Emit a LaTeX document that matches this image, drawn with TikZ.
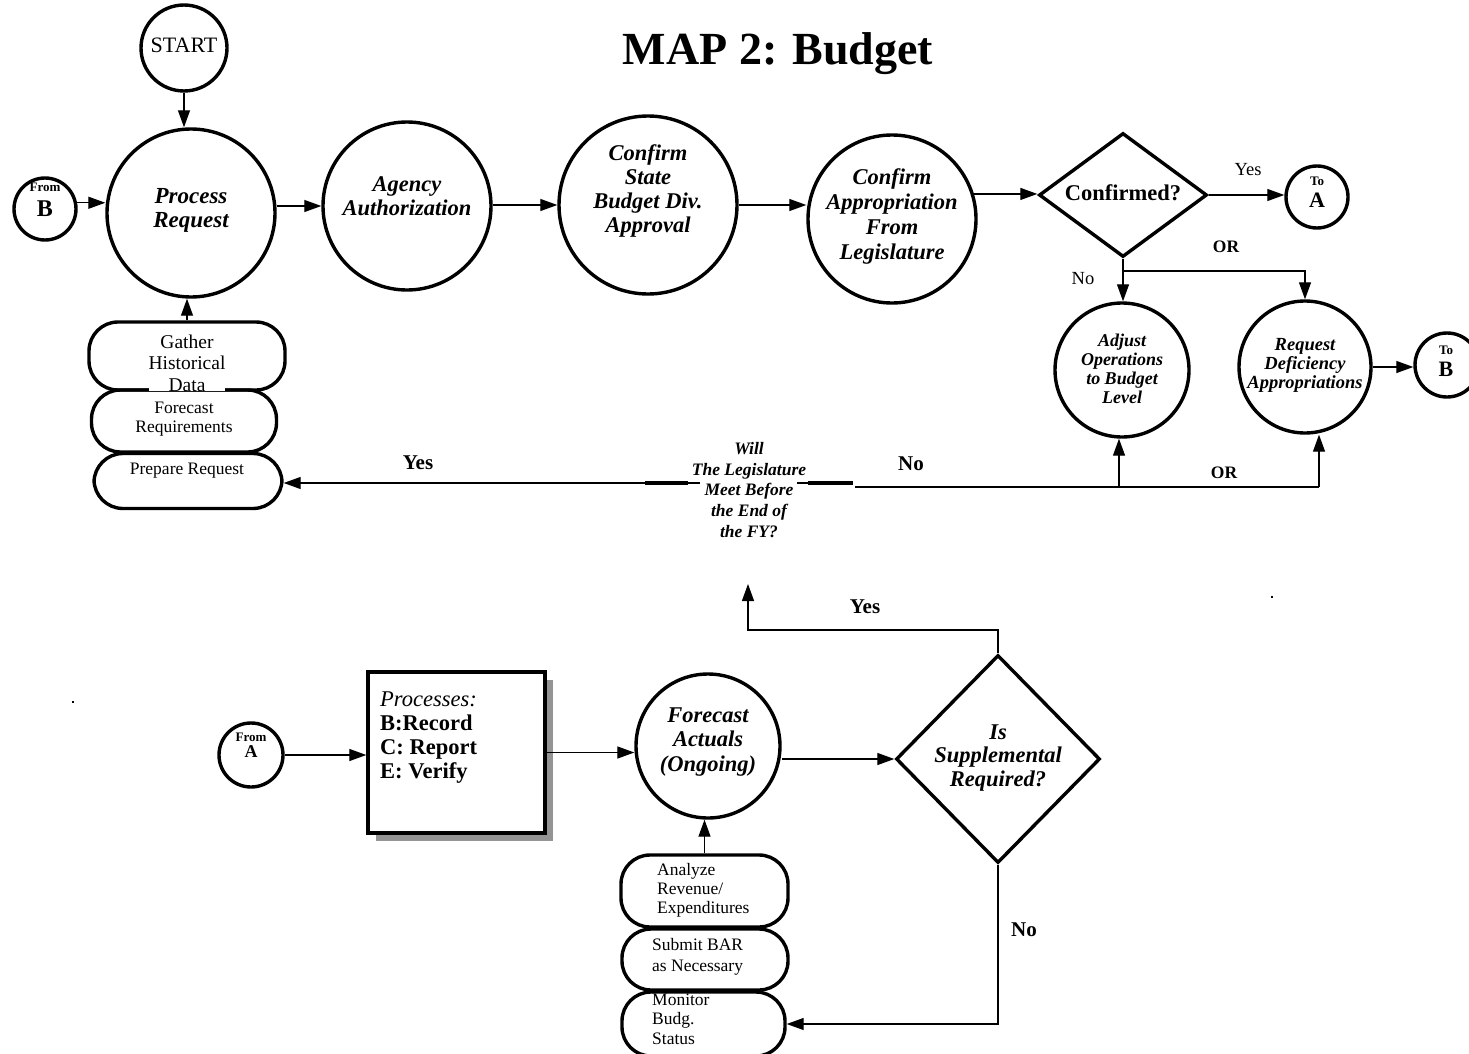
\documentclass[tikz,border=0pt]{standalone}
\usepackage{fontspec}
\setmainfont{Liberation Serif}
\usetikzlibrary{shapes.geometric,arrows.meta,shadows}
\newcommand\fz[2]{\fontsize{#1}{#2}\selectfont}
\begin{document}
\begin{tikzpicture}[x=1pt,y=-1pt,
  arr/.style={-{Triangle[length=17pt,width=12pt]},line width=1.3pt},
  ln/.style={line width=1.3pt},
  cir/.style={circle,draw,line width=3.4pt,inner sep=0pt,minimum size=#1},
  dia/.style={diamond,draw,line width=3.4pt,inner sep=0pt},
  pill/.style={rectangle,draw,line width=3.4pt,rounded corners=29pt,inner sep=0pt},
  txt/.style={inner sep=0pt,align=center},
]
\useasboundingbox (0,0) rectangle (1469,1054);

% title
\node[txt,font=\bfseries\fz{46}{50}] (title) at (778,54) {MAP 2: Budget};

% ---------- top part ----------
\node[cir=86pt] (start) at (184,48) {};
\node[txt,font=\fz{22}{24}] (startt) at (184,45) {START};

\node[cir=168pt] (pr) at (191,213) {};
\node[txt,font=\bfseries\itshape\fz{23}{24}] (prt) at (191,210) {Process\\Request};

\node[cir=62pt] (fb) at (45,209) {};
\node[txt,font=\bfseries\fz{13}{25}] (fbt) at (45,200) {From\\\fz{24}{25}B};

\node[pill,minimum width=196pt,minimum height=68pt] (gh) at (187,356) {};
\node[pill,minimum width=185pt,minimum height=62pt] (fr) at (184,421) {};
\node[pill,minimum width=188pt,minimum height=55pt] (prq) at (188,481) {};
\node[txt,fill=white,font=\fz{19.5}{21.5}] (ght) at (187,363) {Gather\\Historical\\Data};
\node[txt,font=\fz{17.5}{19.5}] (frt) at (184,419) {Forecast\\Requirements};
\node[txt,font=\fz{17.5}{19.5}] (prqt) at (187,471) {Prepare Request};

\node[cir=168pt] (ag) at (407,206) {};
\node[txt,font=\bfseries\itshape\fz{22.5}{24.5}] (agt) at (407,196) {Agency\\Authorization};

\node[cir=178pt] (cs) at (648,205) {};
\node[txt,font=\bfseries\itshape\fz{22.5}{24}] (cst) at (648,191) {Confirm\\State\\Budget Div.\\Approval};

\node[cir=168pt] (ca) at (892,219) {};
\node[txt,font=\bfseries\itshape\fz{22.5}{25}] (cat) at (892,216) {Confirm\\Appropriation\\From\\Legislature};

\node[dia,minimum width=168pt,minimum height=124pt] (cf) at (1123,195) {};
\node[txt,font=\bfseries\fz{22.5}{24}] (cft) at (1123,193) {Confirmed?};

\node[cir=62pt] (ta) at (1317,197) {};
\node[txt,font=\bfseries\fz{13}{22}] (tat) at (1317,192) {To\\\fz{22}{22}A};

\node[cir=134pt] (adj) at (1122,370) {};
\node[txt,font=\bfseries\itshape\fz{18}{19}] (adjt) at (1122,369) {Adjust\\Operations\\to Budget\\Level};

\node[cir=132pt] (rd) at (1305,367) {};
\node[txt,font=\bfseries\itshape\fz{18.5}{19}] (rdt) at (1305,365) {Request\\Deficiency\\Appropriations};

\node[cir=64pt] (tb) at (1447,365) {};
\node[txt,font=\bfseries\fz{13}{22}] (tbt) at (1446,361) {To\\\fz{22}{22}B};

\node[txt,font=\fz{18.5}{20}] (yes1) at (1248,170) {Yes};
\node[txt,font=\bfseries\fz{17.5}{20}] (or1) at (1226,247) {OR};
\node[txt,font=\fz{18.5}{20}] (no1) at (1083,279) {No};
\node[txt,font=\bfseries\fz{17.5}{20}] (or2) at (1224,473) {OR};
\node[txt,font=\bfseries\fz{21}{22}] (yes2) at (418,463) {Yes};
\node[txt,font=\bfseries\fz{21}{22}] (no2) at (911,464) {No};

\node[txt,font=\bfseries\itshape\fz{17.5}{20.7}] (will) at (749,490) {Will\\The Legislature\\Meet Before\\the End of\\the FY?};
\coordinate (wl) at (645,483);
\coordinate (wr) at (855,487);
\coordinate (ja) at (1119,487);
\coordinate (jb) at (1319,487);
\coordinate (br) at (1123,271);

% top connectors
\draw[arr] (start.south) -- (start.south |- pr.north);
\draw[arr] (fb.11) -- (fb.11 -| pr.west);
\draw[arr] (gh.north) -- (gh.north |- pr.south);
\draw[arr] (ag.west -| pr.east) -- (ag.west);
\draw[arr] (cs.west -| ag.east) -- (cs.west);
\draw[arr] (cs.east) -- (cs.east -| ca.west);
\draw[arr] (ca.17) -- (ca.17 -| cf.west);
\draw[arr] (cf.east) -- (cf.east -| ta.west);
\draw[arr] (cf.south) -- (cf.south |- adj.north);
\draw[arr] (br) -| (rd.north);
\draw[arr] (rd.east) -- (rd.east -| tb.west);

\draw[line width=3.2pt] (wl) -- (688,483);
\draw[line width=3.2pt] (808,483) -- (853,483);
\draw[ln] (688,483) -- (700,483);
\draw[ln] (797,483) -- (808,483);
\draw[arr] (wl) -- (wl -| prq.east);
\draw[ln] (wr) -- (jb);
\draw[arr] (ja) -- (ja |- adj.south);
\draw[arr] (jb) -- (jb |- rd.south);

% ---------- bottom part ----------
\node[cir=64pt] (fa) at (251,755) {};
\node[txt,font=\bfseries\fz{13}{16}] (fat) at (251,745) {From\\\fz{18}{16}A};

\node[draw,line width=3.4pt,fill=white,inner sep=0pt,minimum width=177pt,minimum height=161pt,
  drop shadow={shadow xshift=8pt,shadow yshift=-8pt,fill=black!42,opacity=1}] (pb) at (456.5,752.5) {};
\node[txt,align=left,anchor=north west,font=\fz{22.5}{24}] (pbt) at (380,692)
  {{\itshape Processes:}\\\textbf{B:Record}\\\textbf{C: Report}\\\textbf{E: Verify}};

\node[cir=144pt] (fac) at (708,746) {};
\node[txt,font=\bfseries\itshape\fz{22.5}{24.5}] (fact) at (708,742) {Forecast\\Actuals\\(Ongoing)};

\node[dia,minimum width=204pt,minimum height=208pt] (sup) at (998,759) {};
\node[txt,font=\bfseries\itshape\fz{22.5}{23.5}] (supt) at (998,758) {Is\\Supplemental\\Required?};

\node[pill,minimum width=167pt,minimum height=72pt] (an) at (704.5,891) {};
\node[pill,minimum width=166pt,minimum height=61pt] (sb) at (705,959.5) {};
\node[pill,minimum width=163pt,minimum height=64pt] (mon) at (703.5,1024) {};
\node[txt,align=left,anchor=west,font=\fz{17.5}{19}] (ant) at (657,890) {Analyze\\Revenue/\\Expenditures};
\node[txt,align=left,anchor=west,font=\fz{17.5}{21}] (sbt) at (652,957) {Submit BAR\\as Necessary};
\node[txt,align=left,anchor=west,fill=white,font=\fz{17.5}{19.5}] (mont) at (652,1019) {Monitor\\Budg.\\Status};

\node[txt,font=\bfseries\fz{21}{22}] (yes3) at (865,607) {Yes};
\node[txt,font=\bfseries\fz{21}{22}] (no3) at (1024,930) {No};

\coordinate (yt) at (748,584);
\coordinate (yc) at (748,630);

\draw[arr] (fa.east) -- (fa.east -| pb.west);
\draw[arr] (pb.east) -- (pb.east -| fac.west);
\draw[arr] (sup.west -| fac.east) -- (sup.west);
\draw[arr] (an.north) -- (an.north |- fac.south);
\draw[arr] (sup.north) |- (yc) -- (yt);
\draw[arr] (sup.south) |- (mon.east);

% specks
\fill (1271,596) rectangle (1273,598);
\fill (72,701) rectangle (74,703);
\end{tikzpicture}
\end{document}
